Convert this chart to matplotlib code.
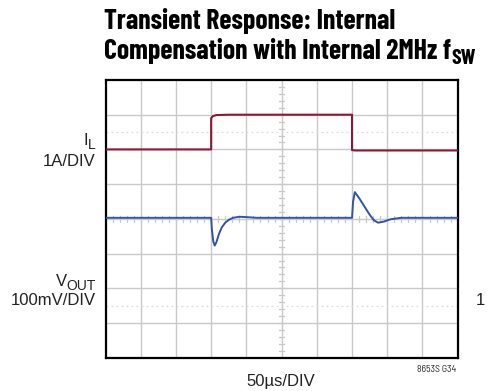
import numpy as np
import matplotlib
matplotlib.use("Agg")
from matplotlib import pyplot as plt

# scope traces, in screen divisions (10 x 8 graticule)
il_t = [0.0, 3.0, 3.0, 3.05, 3.15, 3.5, 7.0, 7.0, 7.1, 10.0]
il_v = [6.0, 6.0, 6.9, 6.96, 6.99, 7.0, 7.0, 5.98, 5.97, 5.97]

vout_t = [0.0, 3.0, 3.02, 3.06, 3.1, 3.15, 3.22, 3.3, 3.4, 3.5, 3.62, 3.8,
          4.0, 4.3, 7.0, 7.03, 7.08, 7.2, 7.35, 7.5, 7.62, 7.74, 7.9, 8.1,
          8.4, 10.0]
vout_v = [4.03, 4.03, 3.7, 3.35, 3.23, 3.33, 3.56, 3.75, 3.89, 3.97, 4.03,
          4.06, 4.05, 4.03, 4.03, 4.5, 4.77, 4.6, 4.36, 4.12, 3.96, 3.89,
          3.92, 3.99, 4.03, 4.03]

title_lines = ["Transient Response: Internal", "Compensation with Internal 2MHz f"]

RED = "#8c1838"
BLUE = "#3353a3"
GRID = "#c9c9c9"
COND = ["Barlow Condensed", "DejaVu Sans"]
SANS = ["Liberation Sans", "DejaVu Sans"]

fig = plt.figure(figsize=(4.91, 3.91), dpi=100)
W, H = 491.0, 391.0
ax = fig.add_axes([105.5 / W, 1 - 357.7 / H, 352.2 / W, 277.7 / H])
ax.set_xlim(0, 10)
ax.set_ylim(0, 8)
ax.set_xticks([])
ax.set_yticks([])
for s in ax.spines.values():
    s.set_linewidth(1.6)
    s.set_color("black")

# graticule
for x in range(1, 10):
    ax.axvline(x, color=GRID, lw=1.0, zorder=1)
for y in range(1, 8):
    ax.axhline(y, color=GRID, lw=1.0, zorder=1)
# minor ticks on the center lines
for y in np.arange(0.2, 8, 0.2):
    ax.plot([4.93, 5.07], [y, y], color=GRID, lw=0.9, zorder=1)
for x in np.arange(0.2, 10, 0.2):
    ax.plot([x, x], [3.91, 4.09], color=GRID, lw=0.9, zorder=1)
# ground reference markers
ax.axhline(6.5, color="#dcdcdc", lw=0.9, ls=(0, (1.5, 2.5)), zorder=1)
ax.axhline(1.5, color="#dcdcdc", lw=0.9, ls=(0, (1.5, 2.5)), zorder=1)

ax.plot(il_t, il_v, color=RED, lw=1.5, zorder=3)
ax.plot(vout_t, vout_v, color=BLUE, lw=1.4, zorder=3)

r = fig.canvas.get_renderer()


def px(x, y):
    return x / W, 1 - y / H


def width_of(t):
    return t.get_window_extent(renderer=r).width


# title
tfont = dict(family=COND, weight="bold", fontsize=20, color="black")
fig.text(*px(104, 29), title_lines[0], ha="left", va="baseline", **tfont)
t2 = fig.text(*px(104, 59), title_lines[1], ha="left", va="baseline", **tfont)
fig.text(104 / W + width_of(t2) / W, 1 - 64 / H, "SW", ha="left",
         va="baseline", **dict(tfont, fontsize=15.5))

# channel labels, right aligned at the frame
lfont = dict(family=SANS, fontsize=12, color="#222222")


def sub_label(x, y, main, sub):
    s = fig.text(*px(x, y + 4), sub, ha="right", va="baseline",
                 **dict(lfont, fontsize=10))
    fig.text(x / W - width_of(s) / W, 1 - y / H, main, ha="right",
             va="baseline", **lfont)


sub_label(96, 145, "I", "L")
fig.text(*px(96, 166), "1A/DIV", ha="right", va="baseline", **lfont)
sub_label(96, 286, "V", "OUT")
fig.text(*px(96, 305), "100mV/DIV", ha="right", va="baseline", **lfont)
fig.text(*px(476, 305), "1", ha="left", va="baseline", **lfont)

fig.text(*px(281, 386), "50µs/DIV", ha="center", va="baseline", **lfont)
fig.text(*px(456, 372), "8653S G34", ha="right", va="baseline",
         family=["Barlow Semi Condensed", "DejaVu Sans"], fontsize=7,
         color="#222222")

fig.savefig("out.png", dpi=100)
